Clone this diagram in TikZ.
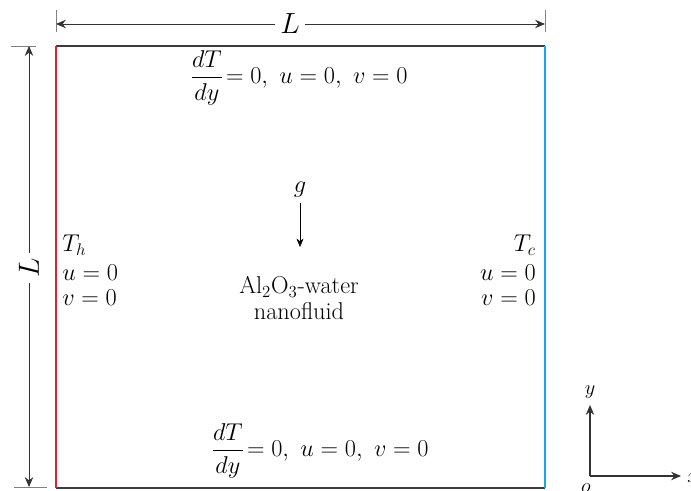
\documentclass[tikz,border=0pt]{standalone}
\usepackage{amsmath}
\usetikzlibrary{arrows.meta}
\definecolor{hotred}{RGB}{235,30,35}
\definecolor{coldblue}{RGB}{20,170,235}
\definecolor{wallgray}{RGB}{60,60,60}

\begin{document}
\begin{tikzpicture}[x=0.025cm,y=-0.025cm,font=\LARGE,
  dim/.style={-{Stealth[length=7pt,width=6pt]},semithick,black!80},
  tick/.style={thin,black!50}]
\useasboundingbox (0,0) rectangle (691,491);
% corners of the cavity
\coordinate (c1) at (56,46);
\coordinate (c2) at (545,46);
\coordinate (c3) at (545,488);
\coordinate (c4) at (56,488);

\draw[wallgray,line width=1.3pt] (c1)--(c2);
\draw[wallgray,line width=1.3pt] (c4)--(c3);
\draw[hotred,line width=1.3pt] (c1)--(c4);
\draw[coldblue,line width=1.3pt] (c2)--(c3);

% dimension lines
\coordinate (t1) at (56,10);
\coordinate (t2) at (56,32);
\coordinate (t3) at (545,10);
\coordinate (t4) at (545,32);
\draw[tick] (t1)--(t2);
\draw[tick] (t3)--(t4);
\node[font=\huge] (Ltop) at (290,24) {$L$};
\coordinate (a1) at (56,24);
\coordinate (a2) at (545,24);
\draw[dim] (Ltop)--(a1);
\draw[dim] (Ltop)--(a2);

\coordinate (s1) at (11,46);
\coordinate (s2) at (36,46);
\coordinate (s3) at (14,487);
\coordinate (s4) at (47,487);
\draw[tick] (s1)--(s2);
\draw[tick] (s3)--(s4);
\node[font=\huge,rotate=90] (Lside) at (29,268) {$L$};
\coordinate (b1) at (29,46);
\coordinate (b2) at (29,487);
\draw[dim] (Lside)--(b1);
\draw[dim] (Lside)--(b2);

% boundary conditions
\node (bctop) at (299,78) {$\dfrac{dT}{dy}\!=0,\ u=0,\ v=0$};
\node (bcbot) at (320,451) {$\dfrac{dT}{dy}\!=0,\ u=0,\ v=0$};

\node[anchor=west,inner sep=0pt] (th) at (62,245) {$T_h$};
\node[anchor=west,inner sep=0pt] (uh) at (62,273) {$u=0$};
\node[anchor=west,inner sep=0pt] (vh) at (62,298) {$v=0$};
\node[anchor=east,inner sep=0pt] (tc) at (536,245) {$T_c$};
\node[anchor=east,inner sep=0pt] (uc) at (536,273) {$u=0$};
\node[anchor=east,inner sep=0pt] (vc) at (536,298) {$v=0$};

% gravity and fluid
\node (g) at (300,190) {$g$};
\coordinate (g2) at (300,247);
\draw[-{Stealth[length=6pt,width=5pt]},thin] (g)--(g2);
\node (fluid1) at (299,287) {Al$_2$O$_3$-water};
\node (fluid2) at (299,311) {nanofluid};

% axes
\coordinate (o) at (590,476);
\node[font=\Large] (ylab) at (590,392) {$y$};
\node[font=\Large,anchor=west,inner sep=0pt] (xlab) at (687,478) {$x$};
\node[font=\Large] (olab) at (586,488) {$o$};
\draw[dim,line width=0.9pt] (o)--(590,405);
\draw[dim,line width=0.9pt] (o)--(681,476);
\end{tikzpicture}
\end{document}
